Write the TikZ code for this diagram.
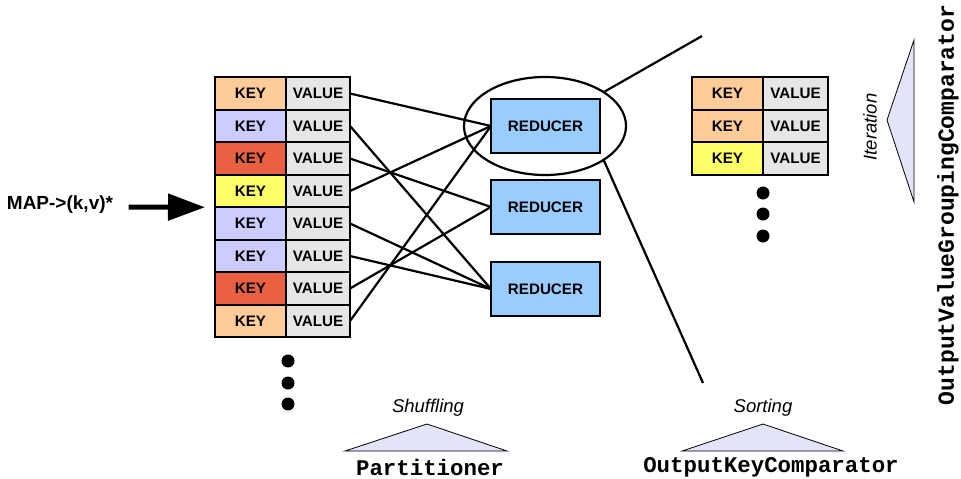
\documentclass[tikz,border=0pt]{standalone}
\usepackage{fontspec}
\setmainfont{Liberation Sans}
\setmonofont{Liberation Mono}
\usetikzlibrary{shapes.geometric,arrows.meta}
\definecolor{peach}{HTML}{FFCC99}
\definecolor{lilac}{HTML}{CCCCFF}
\definecolor{brick}{HTML}{E96140}
\definecolor{lemon}{HTML}{FFFF66}
\definecolor{cellgray}{HTML}{E6E6E6}
\definecolor{sky}{HTML}{99CCFF}
\definecolor{wedge}{HTML}{E3E3FA}

\tikzset{
  cell/.style={draw, line width=2pt, inner sep=0pt, outer sep=0pt, minimum height=32.5pt,
    font=\fontsize{15.2}{17}\selectfont\bfseries},
  keycell/.style={cell, minimum width=71pt},
  valcell/.style={cell, fill=cellgray, minimum width=64pt},
  reducer/.style={draw, line width=1.5pt, fill=sky, outer sep=0pt, minimum width=109pt,
    minimum height=54pt, font=\fontsize{15.2}{17}\selectfont\bfseries},
  link/.style={line width=2.2pt},
  tri/.style={draw, fill=wedge, line width=0.8pt},
  tag/.style={font=\fontsize{18.5}{21}\selectfont\itshape},
  cls/.style={font=\fontsize{22.4}{26}\selectfont\ttfamily\bfseries}
}

\begin{document}
\begin{tikzpicture}[x=1pt, y=-1pt]
    \useasboundingbox (0,0) rectangle (961,479);

    % map output
    \foreach \i/\c in {1/peach,2/lilac,3/brick,4/lemon,5/lilac,6/lilac,7/brick,8/peach} {
        \node[keycell, fill=\c] (k\i) at (250.5, {61+32.5*\i}) {KEY};
        \node[valcell, anchor=west] (v\i) at (k\i.east) {VALUE};
    }
    \foreach \y in {361,383,404} \fill (288,\y) circle (6.5pt);

    \node[font=\fontsize{19}{22}\selectfont\bfseries] (map) at (60,205) {MAP->(k,v)*};
    \draw[line width=5pt, -{Triangle[length=37pt,width=26pt]}]
        ([xshift=12pt,yshift=-2pt]map.east) -- ([xshift=-10pt]k4.south west);

    % reducers
    \node[reducer] (r1) at (545.5,126) {REDUCER};
    \node[reducer] (r2) at (545.5,207) {REDUCER};
    \node[reducer] (r3) at (545.5,289) {REDUCER};
    \foreach \i/\r in {1/1,2/3,3/2,4/1,5/3,6/3,7/2,8/1}
        \draw[link] (v\i.east) -- (r\r.west);

    % zoom on the first reducer
    \node[draw, ellipse, line width=2.2pt, outer sep=0pt, minimum width=162pt,
        minimum height=98pt] (grp) at (545,126) {};
    \coordinate (ghi) at (702,36);
    \coordinate (glo) at (703,383);
    \draw[link] (grp.30) -- (ghi);
    \draw[link] (grp.-30) -- (glo);

    \foreach \i/\c in {1/peach,2/peach,3/lemon} {
        \node[keycell, fill=\c] (q\i) at (727.5, {61+32.5*\i}) {KEY};
        \node[valcell, minimum width=65pt, anchor=west] (w\i) at (q\i.east) {VALUE};
    }
    \foreach \y in {193,214,236} \fill (763,\y) circle (6.5pt);

    % phases
    \draw[tri] (345,451) -- (427,424) -- (507,451) -- cycle;
    \node[tag] (shuf) at (428,408) {Shuffling};
    \node[cls] (part) at (430,467) {Partitioner};

    \draw[tri] (682,451) -- (763,424) -- (843,451) -- cycle;
    \node[tag] (sort) at (763,408) {Sorting};
    \node[cls] (okc) at (771,467) {OutputKeyComparator};

    \draw[tri] (887,120) -- (914,40) -- (914,202) -- cycle;
    \node[tag, rotate=90] (iter) at (870,127) {Iteration};
    \node[cls, font=\fontsize{23}{26}\selectfont\ttfamily\bfseries, rotate=90] (ovgc)
        at (948,205) {OutputValueGroupingComparator};
\end{tikzpicture}
\end{document}
